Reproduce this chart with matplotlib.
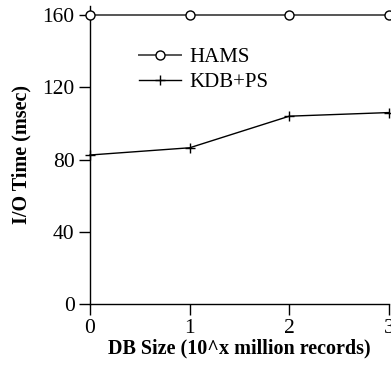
import matplotlib
matplotlib.use("Agg")
import matplotlib.pyplot as plt

db_size = [0, 1, 2, 3]
hams = [160, 160, 160, 160]
kdb_ps = [82.5, 86.5, 104, 106]
y_ticks = [0, 40, 80, 120, 160]

plt.rcParams['font.family'] = ['Liberation Serif', 'DejaVu Serif']

fig = plt.figure(figsize=(3.91, 3.71), dpi=100)
ax = fig.add_axes([90 / 391, 1 - 304 / 371, 299 / 391, 298 / 371])

ax.plot(db_size, hams, color='#555555', lw=1.4, marker='o', ms=6.5,
        mfc='white', mec='black', mew=1.0, label='HAMS', clip_on=False, zorder=3)
ax.plot(db_size, kdb_ps, color='black', lw=1.0, marker='+', ms=7,
        mew=1.0, label='KDB+PS', clip_on=False, zorder=3)

ax.set_xlim(0, 3)
ax.set_ylim(0, 165)
ax.set_xticks(db_size)
ax.set_yticks(y_ticks)
for s in ('top', 'right'):
    ax.spines[s].set_visible(False)
for s in ('left', 'bottom'):
    ax.spines[s].set_linewidth(1.0)
ax.tick_params(direction='out', length=8, width=1.0, labelsize=15.5)
ax.tick_params(axis='x', pad=3)
ax.tick_params(axis='y', pad=3)

ax.set_xlabel('DB Size (10^x million records)', fontsize=14.5, fontweight='bold', labelpad=0)
ax.set_ylabel('I/O Time (msec)', fontsize=14.5, fontweight='bold', labelpad=8)

ax.legend(loc='center left', bbox_to_anchor=(49 / 299, 1 - 64 / 298), frameon=False,
          fontsize=15, handlelength=2.0, handletextpad=0.4, labelspacing=0.25,
          borderpad=0, borderaxespad=0)

fig.savefig('out.png', dpi=100)
